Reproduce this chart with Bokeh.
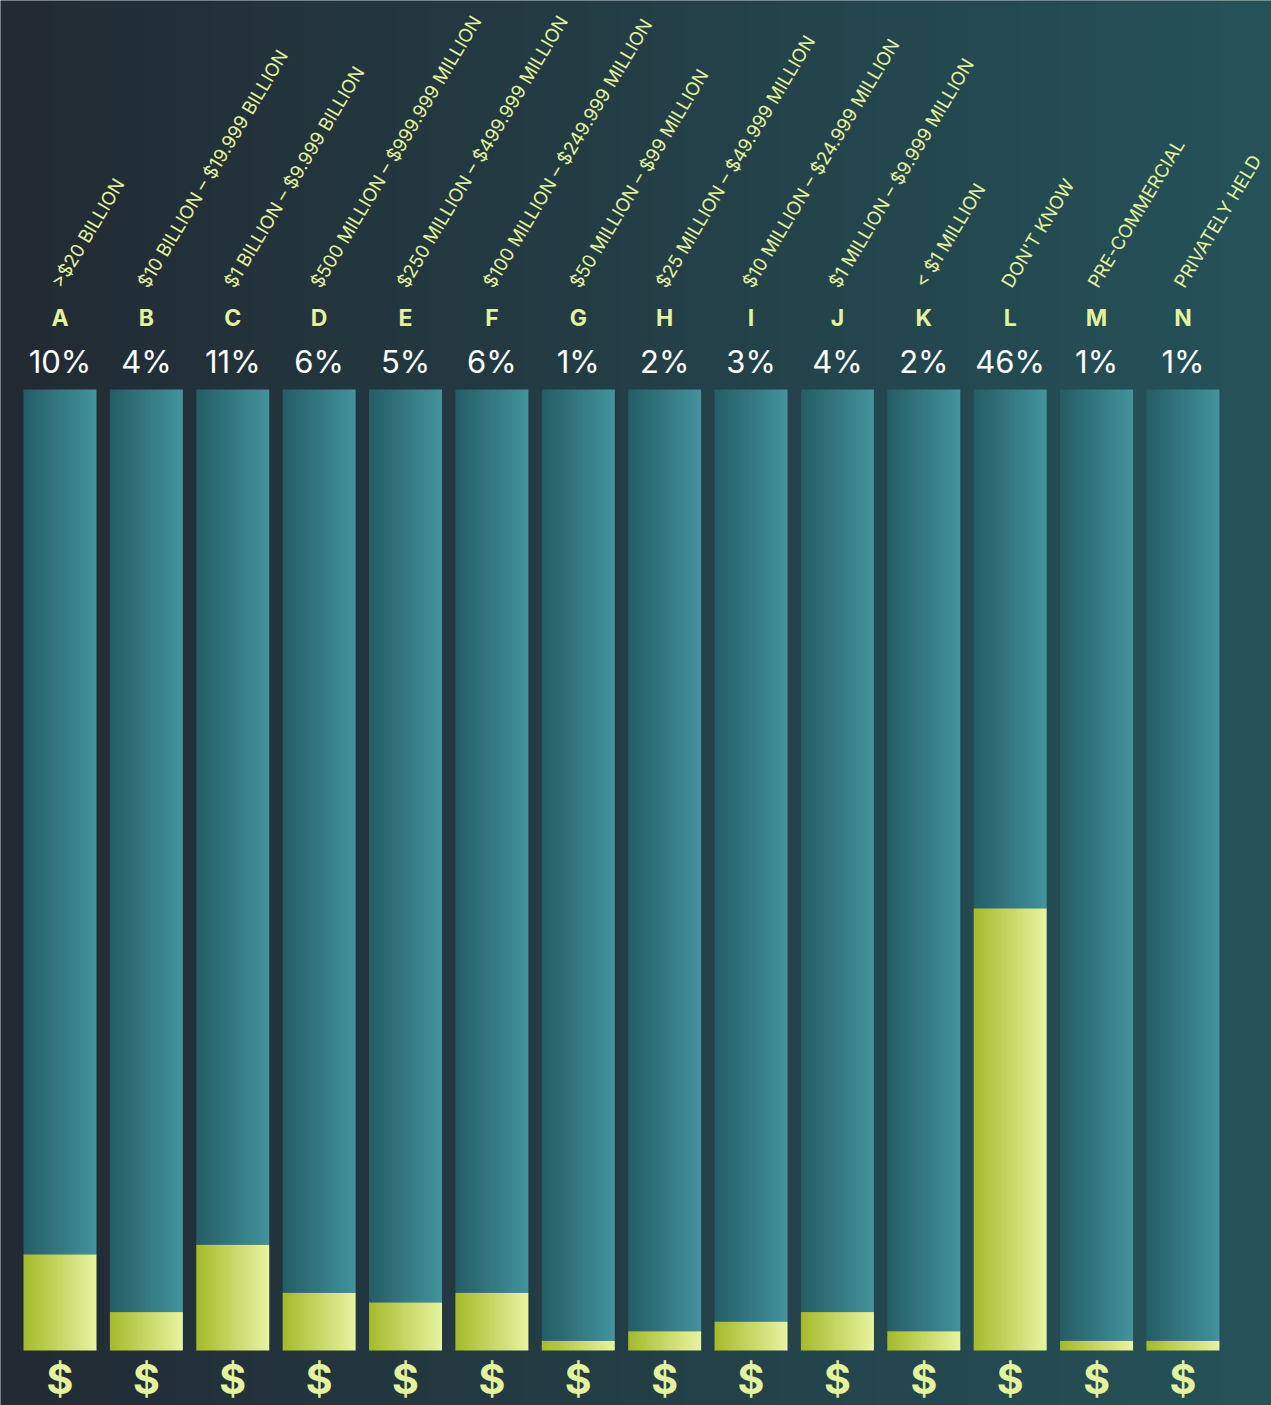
import numpy as np
from bokeh.plotting import figure
from bokeh.models import Range1d
from bokeh.core.properties import value
from bokeh.embed import file_html
from bokeh.resources import INLINE

categories = ["A", "B", "C", "D", "E", "F", "G", "H", "I", "J", "K", "L", "M", "N"]
range_labels = [
    ">$20 BILLION",
    "$10 BILLION – $19.999 BILLION",
    "$1 BILLION – $9.999 BILLION",
    "$500 MILLION – $999.999 MILLION",
    "$250 MILLION – $499.999 MILLION",
    "$100 MILLION – $249.999 MILLION",
    "$50 MILLION – $99 MILLION",
    "$25 MILLION – $49.999 MILLION",
    "$10 MILLION – $24.999 MILLION",
    "$1 MILLION – $9.999 MILLION",
    "< $1 MILLION",
    "DON'T KNOW",
    "PRE-COMMERCIAL",
    "PRIVATELY HELD",
]
percent_values = [10, 4, 11, 6, 5, 6, 1, 2, 3, 4, 2, 46, 1, 1]
total_value = 100

pct_labels = [f"{v}%" for v in percent_values]
xs = np.arange(len(categories))
vals = np.array(percent_values, dtype=float)

W, H = 1271, 1405
X0, X1 = -0.6888, 14.0252
Y0, Y1 = -5.723, 140.479

p = figure(width=W, height=H, output_backend="svg", toolbar_location=None,
           x_axis_type=None, y_axis_type=None, min_border=0,
           x_range=Range1d(X0, X1), y_range=Range1d(Y0, Y1))
p.outline_line_color = None
p.background_fill_color = "#23404a"
p.border_fill_color = "#23404a"


def grad(c0, c1, n=256):
    t = np.linspace(0.0, 1.0, n)
    img = np.empty((1, n), dtype=np.uint32)
    view = img.view(dtype=np.uint8).reshape((1, n, 4))
    for k in range(3):
        view[0, :, k] = np.round(c0[k] + (c1[k] - c0[k]) * t).astype(np.uint8)
    view[0, :, 3] = 255
    return img


# background gradient
bg = grad((34, 42, 51), (37, 82, 89), 512)
p.image_rgba(image=[bg], x=X0, y=Y0, dw=X1 - X0, dh=Y1 - Y0)

bw = 0.845
teal = grad((37, 93, 101), (68, 148, 158))
lime = grad((165, 187, 44), (233, 245, 163))

n = len(categories)
p.image_rgba(image=[teal] * n, x=list(xs - bw / 2), y=list(vals),
             dw=[bw] * n, dh=list(total_value - vals))
p.image_rgba(image=[lime] * n, x=list(xs - bw / 2), y=[0] * n,
             dw=[bw] * n, dh=list(vals))

label_color = "#e4f29e"

p.text(x=list(xs - 0.05), y=[110.8] * n, text=range_labels, angle=59, angle_units="deg",
       text_align="left", text_baseline="middle", text_font=value("Inter"),
       text_font_size="18.5px", text_color=label_color)

p.text(x=list(xs), y=[107.4] * n, text=categories, text_align="center",
       text_baseline="middle", text_font=value("Inter"), text_font_style="bold",
       text_font_size="23px", text_color=label_color)

p.text(x=list(xs), y=[102.9] * n, text=pct_labels, text_align="center",
       text_baseline="middle", text_font=value("Inter"),
       text_font_size="31px", text_color="#ffffff")

p.text(x=list(xs), y=[-2.95] * n, text=["$"] * n, text_align="center",
       text_baseline="middle", text_font=value("Inter"), text_font_style="bold",
       text_font_size="41px", text_color=label_color)

open("out.html", "w").write(file_html(p, INLINE))
